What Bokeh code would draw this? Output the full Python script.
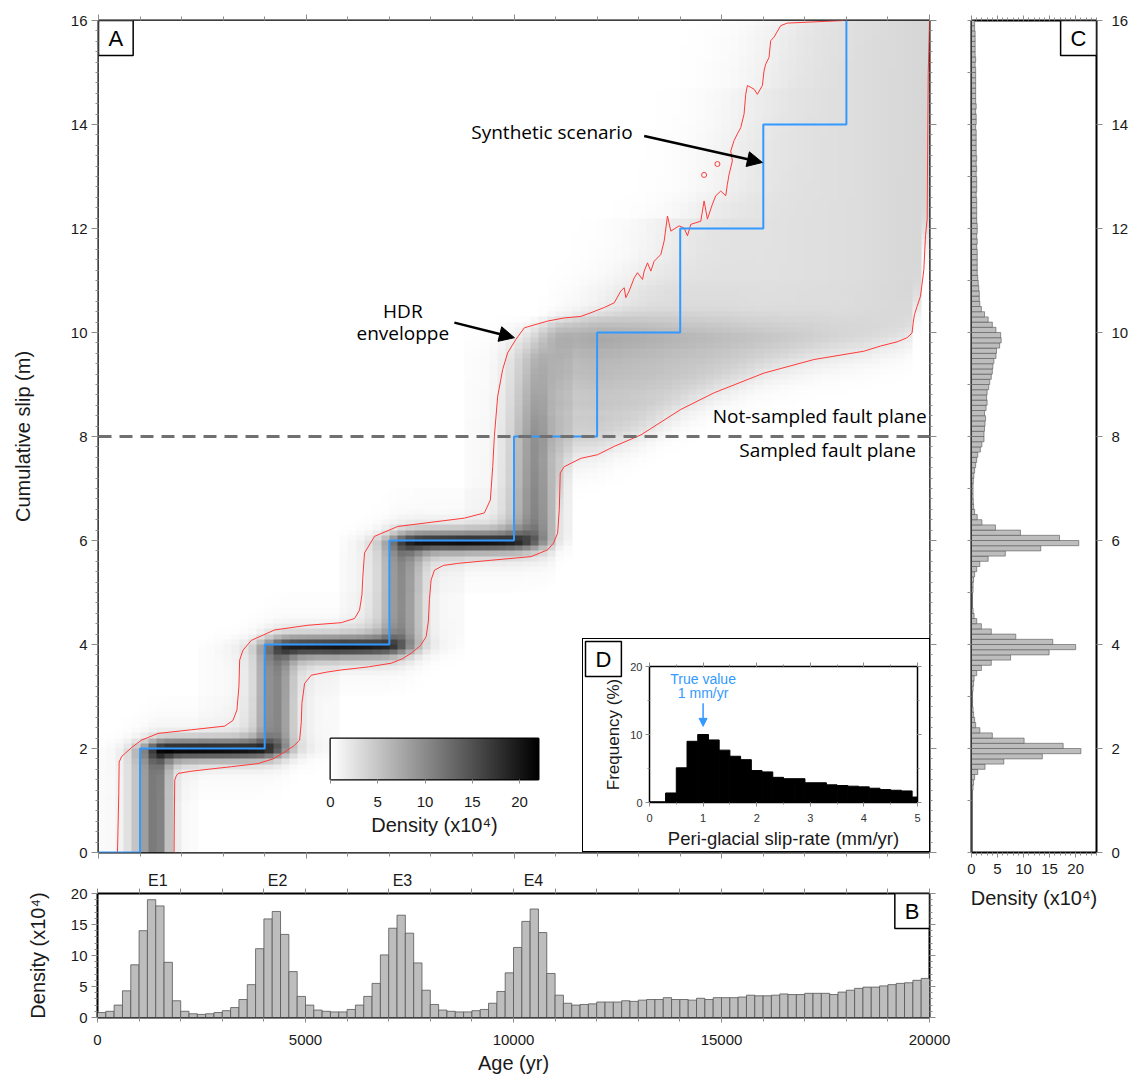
import numpy as np
from bokeh.plotting import figure
from bokeh.layouts import column
from bokeh.models import (Range1d, LinearAxis, SingleIntervalTicker, FixedTicker, Label,
                          Arrow, NormalHead, Span, LinearColorMapper, GridBox)
from bokeh.embed import file_html
from bokeh.resources import INLINE

# ---------------- data ----------------
AGE_BIN = 200      # yr   (panel B bins)
SLIP_BIN = 0.1     # m    (panel C bins)

# panel B : density (x10^4) per 200-yr age bin, 0 -> 20000 yr
density_age = [0.8, 1.0, 2.0, 4.3, 8.5, 14.0, 19.0, 18.0, 8.9, 2.7,
               1.0, 0.6, 0.5, 0.6, 0.8, 1.1, 1.6, 2.9, 5.3, 11.1,
               15.9, 17.1, 13.4, 7.4, 3.4, 2.0, 1.2, 1.0, 0.9, 0.9,
               1.3, 2.0, 3.4, 5.5, 10.1, 14.4, 16.5, 13.6, 8.8, 4.4,
               2.1, 1.2, 1.0, 0.9, 0.9, 1.1, 1.3, 2.3, 4.2, 7.2,
               11.3, 15.5, 17.5, 13.7, 7.1, 3.6, 2.3, 2.0, 2.1, 2.2,
               2.5, 2.5, 2.5, 2.7, 2.6, 2.8, 2.9, 2.9, 3.2, 2.9,
               2.9, 2.8, 3.1, 2.9, 3.2, 3.2, 3.2, 3.3, 3.6, 3.5,
               3.5, 3.6, 3.8, 3.7, 3.7, 3.9, 3.9, 3.9, 3.7, 4.1,
               4.4, 4.7, 4.9, 4.9, 5.1, 5.3, 5.5, 5.6, 6.0, 6.3]

# panel C : density (x10^4) per 0.1-m slip bin, 0 -> 16 m
density_slip = [0.1, 0.1, 0.1, 0.1, 0.1, 0.1, 0.1, 0.1, 0.15, 0.15,
                0.2, 0.2, 0.3, 0.4, 0.6, 1.2, 2.6, 6.2, 13.6, 21.0,
                17.6, 10.1, 4.0, 1.6, 0.8, 0.6, 0.4, 0.3, 0.2, 0.2,
                0.2, 0.3, 0.4, 0.5, 1.0, 1.9, 3.8, 7.5, 14.9, 20.0,
                15.6, 8.5, 3.8, 1.9, 1.0, 0.5, 0.3, 0.2, 0.2, 0.2,
                0.3, 0.3, 0.4, 0.6, 1.0, 1.6, 3.2, 6.5, 13.3, 20.6,
                16.9, 9.4, 4.6, 2.0, 1.1, 0.6, 0.4, 0.35, 0.3, 0.3,
                0.3, 0.35, 0.45, 0.6, 0.8, 1.0, 1.2, 1.7, 2.0, 2.4,
                2.4, 2.5, 2.6, 2.7, 2.5, 2.8, 3.0, 2.9, 3.0, 3.3,
                3.5, 3.8, 4.0, 4.1, 4.3, 4.7, 4.8, 5.4, 5.7, 5.6,
                4.7, 4.0, 3.2, 2.5, 1.9, 1.6, 1.5, 1.5, 1.4, 1.3,
                1.2, 1.1, 1.1, 1.1, 1.1, 1.1, 1.0, 1.1, 1.0, 1.1,
                1.1, 1.0, 1.0, 1.0, 1.0, 1.0, 0.9, 1.0, 1.0, 1.0,
                0.9, 1.0, 0.9, 1.0, 0.9, 0.9, 0.9, 0.9, 0.9, 0.8,
                0.9, 0.9, 0.8, 0.9, 0.8, 0.8, 0.8, 0.8, 0.8, 0.8,
                0.8, 0.7, 0.8, 0.7, 0.7, 0.7, 0.7, 0.7, 0.6, 0.6]

# panel D : peri-glacial slip-rate histogram
rate_center = [0.0, 0.2, 0.4, 0.6, 0.8, 1.0, 1.2, 1.4, 1.6, 1.8, 2.0, 2.2, 2.4,
               2.6, 2.8, 3.0, 3.2, 3.4, 3.6, 3.8, 4.0, 4.2, 4.4, 4.6, 4.8, 5.0]
rate_freq = [0.1, 0.1, 1.4, 5.1, 9.0, 10.0, 9.2, 7.7, 6.8, 6.3, 4.7, 4.5, 3.7,
             3.5, 3.5, 2.9, 2.9, 2.6, 2.5, 2.4, 2.3, 2.1, 1.9, 1.8, 1.7, 0.8]
RATE_BIN = 0.2
true_rate = 1.0

# synthetic scenario (blue staircase)
scenario_age = [0, 1000, 4000, 7000, 10000, 12000, 14000, 16000, 18000]
scenario_slip = [0, 2, 4, 6, 8, 10, 12, 14, 16]

# events labelled above panel B
event_label = ["E1", "E2", "E3", "E4"]
event_label_age = [1450, 4330, 7330, 10480]
event_bins = [(0, 12), (12, 29), (29, 44), (44, 57)]     # B bins belonging to each event
level_bins = [(10, 30), (30, 50), (50, 70)]              # C bins of slip plateaus 2, 4, 6 m

sampled_limit = 8.0

# HDR envelope (age, slip)
hdr_upper = [(457, 0.0), (488, 1.13), (497, 1.74), (560, 1.85), (633, 1.90), (800, 2.02),
             (1034, 2.16), (1435, 2.29), (2236, 2.36), (3036, 2.43), (3237, 2.54), (3332, 2.74),
             (3380, 3.20), (3397, 3.70), (3477, 3.89), (3678, 4.08), (4239, 4.28), (5040, 4.37),
             (5841, 4.42), (6162, 4.50), (6282, 4.66), (6340, 4.95), (6362, 5.30), (6402, 5.76),
             (6643, 6.08), (7204, 6.27), (8005, 6.35), (8805, 6.43), (9287, 6.53), (9431, 6.78),
             (9488, 7.42), (9527, 8.00), (9607, 8.77), (9728, 9.29), (9848, 9.61), (10048, 9.87),
             (10248, 10.09), (10810, 10.22), (11209, 10.28), (11611, 10.31), (11851, 10.38),
             (12171, 10.48), (12412, 10.57), (12572, 10.80), (12652, 10.86), (12692, 10.67),
             (12773, 10.80), (12893, 11.05), (12973, 11.15), (13093, 11.02), (13133, 11.18),
             (13213, 11.34), (13293, 11.18), (13373, 11.37), (13534, 11.50), (13614, 11.76),
             (13694, 12.24), (13774, 11.95), (13974, 12.05), (14094, 12.01), (14175, 11.86),
             (14255, 12.08), (14495, 12.14), (14575, 12.53), (14655, 12.18), (14776, 12.47),
             (14856, 12.63), (14976, 12.72), (15096, 12.63), (15136, 12.85), (15176, 13.04),
             (15256, 13.30), (15216, 13.49), (15296, 13.69), (15377, 13.82), (15457, 13.94),
             (15537, 14.20), (15577, 14.58), (15617, 14.75), (15777, 14.68), (15857, 14.58),
             (15978, 14.75), (16017, 15.03), (16058, 15.16), (16138, 15.29), (16178, 15.61),
             (16258, 15.68), (16418, 15.90), (16578, 15.95), (17940, 16.0)]
hdr_lower = [(1819, 0.0), (1825, 0.70), (1835, 1.39), (1870, 1.47), (1915, 1.52), (2200, 1.56),
             (2636, 1.60), (3200, 1.65), (3837, 1.71), (4200, 1.80), (4479, 1.93), (4700, 2.05),
             (4840, 2.16), (4880, 2.50), (4896, 2.87), (4960, 3.25), (5120, 3.41), (5500, 3.47),
             (5841, 3.51), (6500, 3.57), (7043, 3.64), (7300, 3.72), (7524, 3.83), (7750, 3.98),
             (7885, 4.15), (7940, 4.45), (7964, 4.86), (8005, 5.24), (8085, 5.43), (8300, 5.52),
             (8646, 5.56), (9447, 5.62), (10409, 5.69), (10810, 5.82), (10950, 5.95), (11050, 6.14),
             (11090, 6.60), (11113, 7.30), (11209, 7.42), (11611, 7.58), (12012, 7.65), (12412, 7.81),
             (13053, 8.03), (14014, 8.52), (14815, 8.84), (16017, 9.22), (17218, 9.48), (18419, 9.64),
             (18822, 9.74), (19220, 9.82), (19460, 9.90), (19580, 9.99), (19610, 10.20), (19640, 10.35),
             (19700, 10.50), (19784, 10.70), (19864, 11.21), (19904, 11.86), (19944, 12.18),
             (19955, 13.50), (19970, 15.00), (20000, 16.0)]
hdr_islands = [(14575, 13.03), (14896, 13.24)]

# diffuse density above the sampled plane (read grey levels, x10^4)
field_age = [10400, 11000, 12000, 14000, 16000, 18000, 20000]
field_level = [0.0, 3.0, 3.2, 2.8, 2.6, 2.9, 3.6]
band_level = [0.0, 4.5, 4.5, 3.5, 2.5, 1.2, 0.4]

# ---------------- density image built from the marginals ----------------
B = np.array(density_age, float)
C = np.array(density_slip, float)
nT, nS = len(B), len(C)
AGE_MAX = nT * AGE_BIN
SLIP_MAX = nS * SLIP_BIN
t_c = (np.arange(nT) + 0.5) * AGE_BIN
s_c = (np.arange(nS) + 0.5) * SLIP_BIN


def seg(v, a, b):
    w = np.zeros_like(v)
    w[a:b] = v[a:b]
    return w


def cdf(w):
    return (np.cumsum(w) - 0.5 * w) / w.sum()


Bseg = [seg(B, a, b) for a, b in event_bins]
F = [cdf(w) for w in Bseg]
Cseg = [seg(C, a, b) for a, b in level_bins]
G = [np.ones(nS)] + [cdf(w) for w in Cseg]
W_V, W_H = 0.6, 1.0
dens = np.zeros((nS, nT))
for k in range(3):
    dens += W_V * np.outer(G[k] - G[k + 1], Bseg[k])
fade = np.interp(s_c, [6, 8, 9.5, 10.3], [1, 0.85, 0.55, 0])
dens += W_V * np.outer(G[3] * fade, Bseg[3])
for k in range(3):
    dens += W_H * np.outer(Cseg[k], F[k] - F[k + 1])

up = np.array(hdr_upper, float)
lo = np.array(hdr_lower, float)
lo_fn = np.interp(t_c, np.maximum.accumulate(lo[:, 0]), lo[:, 1])
tl_fn = np.interp(s_c, np.maximum.accumulate(up[:, 1]), up[:, 0])
inside = (1 / (1 + np.exp(-(s_c[:, None] - lo_fn[None, :]) / 0.2))) * \
         (1 / (1 + np.exp(-(t_c[None, :] - tl_fn[:, None]) / 600.0)))
bump = np.where((s_c > 7.5) & (s_c < 11), np.clip(C - 1.0, 0, None), 0) / 4.7
fld = np.interp(t_c, field_age, field_level, left=0)
bnd = np.interp(t_c, field_age, band_level, left=0)
dens += (fld[None, :] + np.outer(bump, bnd)) * inside

# ---------------- style helpers ----------------
FONT = "Liberation Sans"
ANNOT = "Open Sans"
TICK = "#8c8c8c"
TXT = "#1a1a1a"
RED = "#ff3a3a"
BLUE = "#3399ff"
HIST_FILL = "#bdbdbd"
HIST_LINE = "#555555"
GRAYS = ["#%02x%02x%02x" % (v, v, v) for v in range(255, -1, -1)]
mapper = LinearColorMapper(palette=GRAYS, low=0, high=22)


def style_axis(ax, major_out, minor_out, labels=True, size="15px", standoff=5, color=TXT):
    ax.axis_line_color = None
    ax.major_tick_in = 0
    ax.minor_tick_in = 0
    ax.major_tick_out = major_out
    ax.minor_tick_out = minor_out
    ax.major_tick_line_color = TICK if major_out else None
    ax.minor_tick_line_color = TICK if minor_out else None
    if labels:
        ax.major_label_text_font = FONT
        ax.major_label_text_font_size = size
        ax.major_label_text_color = color
        ax.major_label_standoff = standoff
    else:
        ax.major_label_text_font_size = "1px"
        ax.major_label_text_color = None
        ax.major_label_standoff = 0


def axis_title(ax, text, size="20px", standoff=5, font=FONT):
    ax.axis_label = text
    ax.axis_label_text_font = font
    ax.axis_label_text_font_size = size
    ax.axis_label_text_font_style = "normal"
    ax.axis_label_text_color = TXT
    ax.axis_label_standoff = standoff


def new_fig(w, h, xr, yr, l, r, t, b, **kw):
    p = figure(width=w, height=h, x_range=Range1d(*xr), y_range=Range1d(*yr),
               output_backend="svg", toolbar_location=None,
               min_border_left=l, min_border_right=r, min_border_top=t, min_border_bottom=b, **kw)
    p.grid.visible = False
    p.outline_line_color = "black"
    p.outline_line_width = 2
    p.background_fill_color = "white"
    p.border_fill_color = "white"
    return p


def panel_label(p, x, y, text, anchor):
    p.add_layout(Label(x=x, y=y, text=text, anchor=anchor, text_font=FONT, text_font_size="22px",
                       text_color="black", border_line_color="black", border_line_width=1.5,
                       background_fill_color="white",
                       padding=dict(left=10, right=10, top=5, bottom=5)))


def annot(p, x, y, text, size="19px", color="black", font=ANNOT, align="center"):
    p.add_layout(Label(x=x, y=y, text=text, text_font=font, text_font_size=size,
                       text_color=color, text_align=align, text_baseline="middle"))


# ---------------- panel A ----------------
pA = new_fig(931, 858, (0, AGE_MAX), (0, SLIP_MAX), 89, 10, 12, 14)
ax = pA.xaxis[0]
ax.ticker = SingleIntervalTicker(interval=5000, num_minor_ticks=5)
style_axis(ax, 6, 4, labels=False)
ax = pA.yaxis[0]
ax.ticker = SingleIntervalTicker(interval=2, num_minor_ticks=10)
style_axis(ax, 7, 3, True, "15px", 4)
axis_title(ax, "Cumulative slip (m)", "20px", 34)
ax = LinearAxis(ticker=SingleIntervalTicker(interval=5000, num_minor_ticks=5))
style_axis(ax, 6, 4, labels=False)
pA.add_layout(ax, "above")
ax = LinearAxis(ticker=SingleIntervalTicker(interval=2, num_minor_ticks=10))
style_axis(ax, 7, 3, labels=False)
pA.add_layout(ax, "right")

pA.image(image=[dens], x=0, y=0, dw=AGE_MAX, dh=SLIP_MAX, color_mapper=mapper)
pA.line([a for a, s in hdr_upper], [s for a, s in hdr_upper], line_color=RED, line_width=1)
pA.line([a for a, s in hdr_lower], [s for a, s in hdr_lower], line_color=RED, line_width=1)
pA.scatter([a for a, s in hdr_islands], [s for a, s in hdr_islands], size=5, marker="circle",
           fill_color=None, line_color=RED, line_width=1)
pA.step(scenario_age, scenario_slip, mode="after", line_color=BLUE, line_width=2)
pA.add_layout(Span(location=sampled_limit, dimension="width", line_color="#707070",
                   line_width=3, line_dash="13 8"))

annot(pA, 7325, 10.41, "HDR")
annot(pA, 7325, 9.99, "enveloppe")
pA.add_layout(Arrow(end=NormalHead(size=15, fill_color="black", line_color="black"),
                    x_start=8565, y_start=10.19, x_end=10010, y_end=9.90,
                    line_color="black", line_width=2.5))
annot(pA, 10913, 13.85, "Synthetic scenario")
pA.add_layout(Arrow(end=NormalHead(size=15, fill_color="black", line_color="black"),
                    x_start=13133, y_start=13.78, x_end=15978, y_end=13.27,
                    line_color="black", line_width=2.5))
annot(pA, 17356, 8.39, "Not-sampled fault plane")
annot(pA, 17548, 7.75, "Sampled fault plane")
panel_label(pA, 0, SLIP_MAX, "A", "top_left")

# ---------------- colour bar ----------------
pCB = new_fig(240, 113, (0, 22), (0, 1), 15, 17, 8, 64, y_axis_location=None)
pCB.border_fill_alpha = 0
pCB.image(image=[np.linspace(0, 22, 256)[None, :]], x=0, y=0, dw=22, dh=1, color_mapper=mapper)
ax = pCB.xaxis[0]
ax.ticker = FixedTicker(ticks=[0, 5, 10, 15, 20])
style_axis(ax, 4, 0, True, "15px", 13)
axis_title(ax, "Density (x10\u2074)", "20px", 4)

# ---------------- panel D ----------------
pD = new_fig(348, 228, (0, 5), (0, 20), 67, 13, 28, 64)
pD.border_fill_alpha = 0
pD.outline_line_width = 1.5
pD.vbar(x=rate_center, width=RATE_BIN, top=rate_freq, fill_color="black", line_color="black")
ax = pD.xaxis[0]
ax.ticker = SingleIntervalTicker(interval=1, num_minor_ticks=2)
style_axis(ax, 4, 2, True, "11px", 7, "#333333")
axis_title(ax, "Peri-glacial slip-rate (mm/yr)", "18.5px", 3)
ax = pD.yaxis[0]
ax.ticker = SingleIntervalTicker(interval=10, num_minor_ticks=2)
style_axis(ax, 4, 2, True, "11px", 3, "#333333")
axis_title(ax, "Frequency (%)", "17px", 4)
ax = LinearAxis(ticker=SingleIntervalTicker(interval=1, num_minor_ticks=2))
style_axis(ax, 4, 2, labels=False)
pD.add_layout(ax, "above")
ax = LinearAxis(ticker=SingleIntervalTicker(interval=10, num_minor_ticks=2))
style_axis(ax, 4, 2, labels=False)
pD.add_layout(ax, "right")
annot(pD, true_rate, 18.1, "True value", "14px", BLUE, FONT)
annot(pD, true_rate, 16.1, "1 mm/yr", "14px", BLUE, FONT)
pD.add_layout(Arrow(end=NormalHead(size=8, fill_color=BLUE, line_color=BLUE),
                    x_start=true_rate, y_start=14.6, x_end=true_rate, y_end=11.2,
                    line_color=BLUE, line_width=1.5))

# outer box of inset D with its panel letter
pDbox = figure(width=348, height=214, x_range=Range1d(0, 348), y_range=Range1d(0, 214),
               output_backend="svg", toolbar_location=None, min_border=0,
               min_border_left=0, min_border_right=0, min_border_top=0, min_border_bottom=0,
               x_axis_location=None, y_axis_location=None,
               styles={"outline": "1.5px solid black", "outline-offset": "-1.5px"})
pDbox.grid.visible = False
pDbox.outline_line_color = None
pDbox.background_fill_alpha = 0
pDbox.border_fill_alpha = 0
panel_label(pDbox, 3, 211, "D", "top_left")

# ---------------- panel B ----------------
pB = new_fig(961, 215, (0, AGE_MAX), (0, 20), 89, 40, 27, 64)
age_left = [i * AGE_BIN for i in range(nT)]
age_right = [(i + 1) * AGE_BIN for i in range(nT)]
pB.quad(left=age_left, right=age_right, bottom=0, top=density_age,
        fill_color=HIST_FILL, line_color=HIST_LINE, line_width=0.8)
ax = pB.xaxis[0]
ax.ticker = SingleIntervalTicker(interval=5000, num_minor_ticks=5)
style_axis(ax, 5, 4, True, "15px", 12)
axis_title(ax, "Age (yr)", "20px", 4)
ax = pB.yaxis[0]
ax.ticker = SingleIntervalTicker(interval=5, num_minor_ticks=5)
style_axis(ax, 6, 3, True, "15px", 4)
axis_title(ax, "Density (x10\u2074)", "20px", 19)
ax = LinearAxis(ticker=FixedTicker(ticks=event_label_age, minor_ticks=list(range(0, AGE_MAX + 1, 1000))))
style_axis(ax, 0, 5, True, "16px", 0)
ax.major_label_overrides = {a: n for a, n in zip(event_label_age, event_label)}
pB.add_layout(ax, "above")
ax = LinearAxis(ticker=SingleIntervalTicker(interval=5, num_minor_ticks=5))
style_axis(ax, 6, 3, labels=False)
pB.add_layout(ax, "right")
panel_label(pB, AGE_MAX, 20, "B", "top_right")

# ---------------- panel C ----------------
pC = new_fig(194, 920, (0, 24), (0, SLIP_MAX), 32, 37, 12, 76, y_axis_location="right")
slip_center = [(i + 0.5) * SLIP_BIN for i in range(nS)]
pC.hbar(y=slip_center, height=SLIP_BIN, left=0, right=density_slip,
        fill_color=HIST_FILL, line_color=HIST_LINE, line_width=0.6)
ax = pC.xaxis[0]
ax.ticker = SingleIntervalTicker(interval=5, num_minor_ticks=5)
style_axis(ax, 5, 3, True, "15px", 6)
axis_title(ax, "Density (x10\u2074)", "20px", 10)
ax = pC.yaxis[0]
ax.ticker = SingleIntervalTicker(interval=2, num_minor_ticks=0)
style_axis(ax, 6, 0, True, "15px", 9)
ax = LinearAxis(ticker=SingleIntervalTicker(interval=1, num_minor_ticks=0))
style_axis(ax, 4, 0, labels=False)
pC.add_layout(ax, "left")
ax = LinearAxis(ticker=SingleIntervalTicker(interval=5, num_minor_ticks=5))
style_axis(ax, 5, 3, labels=False)
pC.add_layout(ax, "above")
panel_label(pC, 24, SLIP_MAX, "C", "top_right")

# ---------------- layout (8px page margin as first track) ----------------
# each figure is wrapped in its own column so the grid does not align their frames
rows_px = [8, 630, 92, 110, 12, 14, 215]
cols_px = [8, 307, 240, 27, 348, 9, 194]
grid = GridBox(children=[(column(pA), 1, 1, 5, 5), (column(pCB), 3, 2, 2, 1),
                         (column(pD), 2, 4, 4, 1), (column(pDbox), 2, 4, 3, 1),
                         (column(pB), 6, 1, 1, 6), (column(pC), 1, 6, 6, 1)],
               rows=["%dpx" % r for r in rows_px], cols=["%dpx" % c for c in cols_px], spacing=0)

open("out.html", "w").write(file_html(grid, INLINE, title="HDR slip history"))
